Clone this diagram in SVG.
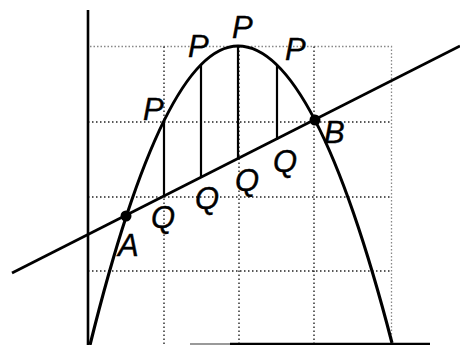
<svg xmlns="http://www.w3.org/2000/svg" width="460" height="345" viewBox="0 0 460 345">
<style>
.grid{stroke:#222;stroke-width:1.4;stroke-dasharray:1.5 2.5;fill:none}
.gridl{stroke:#888;stroke-width:1.3;stroke-dasharray:1.5 2;fill:none}
.curve{stroke:#000;stroke-width:3.2;fill:none}
.ln{stroke:#000;stroke-width:2.8;fill:none}
.seg{stroke:#000;stroke-width:2.2}
.lbl{font-family:"Liberation Sans",Arial,sans-serif;font-style:italic;font-size:31px;fill:#000;stroke:#000;stroke-width:0.4}
.dot{fill:#000}
</style>
<rect width="460" height="345" fill="#fff"/>
<g id="grid">
<path class="gridl" d="M90,46.5H391.5V345"/>
<path class="grid" d="M164,46.5V345M314,46.5V345M239,46.5V345M88,122H391M88,197H391M88,271H391"/>
</g>
<g id="axes">
<line x1="88" y1="10" x2="88" y2="345" stroke="#000" stroke-width="2.6"/>
<line x1="190" y1="344" x2="230" y2="344" stroke="#999" stroke-width="2"/>
<line x1="230" y1="344" x2="430" y2="344" stroke="#000" stroke-width="2.4"/>
</g>
<g id="connectors">
<path id="parabola" class="curve" d="M90,345Q164,46 238,46Q315,46 392,343"/>
<line id="secant" class="ln" x1="12" y1="273" x2="460" y2="46"/>
<line class="seg" x1="164" y1="121" x2="164" y2="197"/>
<line class="seg" x1="201" y1="65" x2="201" y2="178"/>
<line class="seg" x1="238" y1="46" x2="238" y2="159"/>
<line class="seg" x1="277" y1="65" x2="277" y2="140"/>
</g>
<g id="A"><circle class="dot" cx="126" cy="216" r="5.5"/><text class="lbl" x="118" y="256">A</text></g>
<g id="B"><circle class="dot" cx="315" cy="120" r="5.5"/><text class="lbl" x="324" y="143">B</text></g>
<g id="P-labels">
<text class="lbl" x="143" y="120">P</text>
<text class="lbl" x="188" y="57">P</text>
<text class="lbl" x="232" y="38">P</text>
<text class="lbl" x="285" y="60">P</text>
</g>
<g id="Q-labels">
<text class="lbl" x="151" y="228">Q</text>
<text class="lbl" x="195" y="209">Q</text>
<text class="lbl" x="235" y="191">Q</text>
<text class="lbl" x="273" y="172">Q</text>
</g>
</svg>
